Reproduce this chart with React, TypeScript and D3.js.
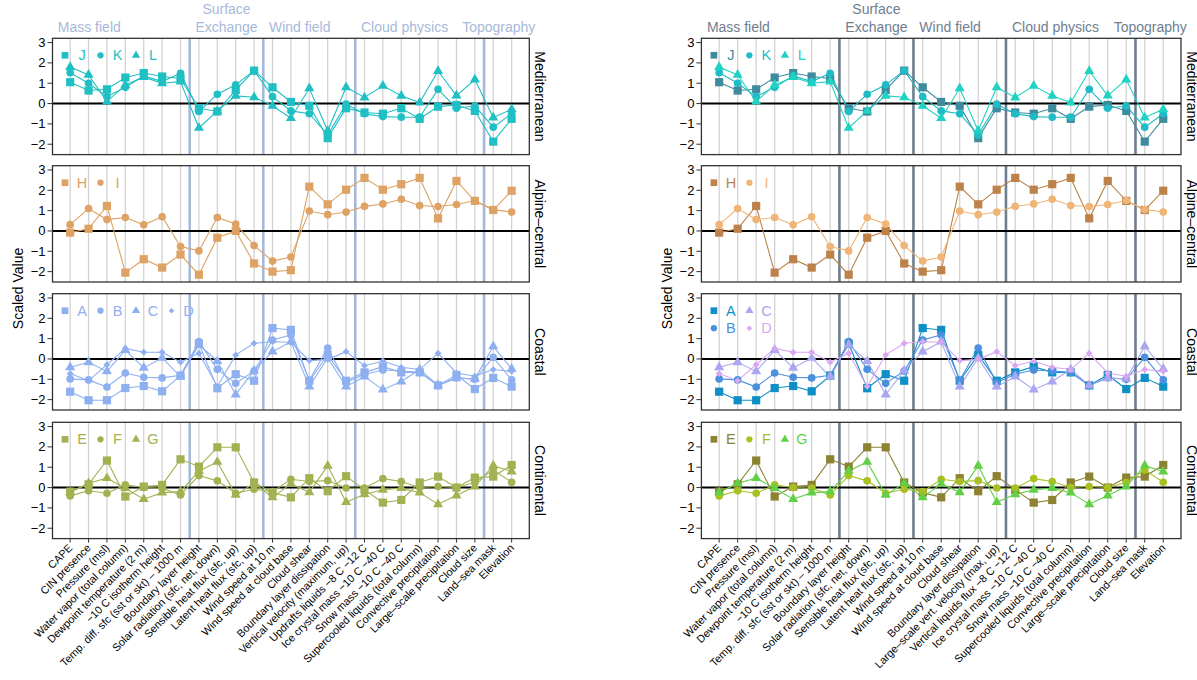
import React from 'react';
import * as d3 from 'd3';

const categoriesLeft = [
  'CAPE', 'CIN presence', 'Pressure (msl)', 'Water vapor (total column)', 'Dewpoint temperature (2 m)',
  '−10 C isotherm height', 'Temp. diff. sfc (sst or skt) – 1000 m', 'Boundary layer height',
  'Solar radiation (sfc, net, down)', 'Sensible heat flux (sfc, up)', 'Latent heat flux (sfc, up)',
  'Wind speed at 10 m', 'Wind speed at cloud base', 'Cloud shear', 'Boundary layer dissipation',
  'Vertical velocity (maximum, up)', 'Updrafts liquids −8 C −12 C', 'Ice crystal mass −10 C −40 C',
  'Snow mass −10 C −40 C', 'Supercooled liquids (total column)', 'Convective precipitation',
  'Large–scale precipitation', 'Cloud size', 'Land–sea mask', 'Elevation',
];
const categoriesRight = [
  'CAPE', 'CIN presence', 'Pressure (msl)', 'Water vapor (total column)', 'Dewpoint temperature (2 m)',
  '−10 C isotherm height', 'Temp. diff. sfc (sst or skt) – 1000 m', 'Boundary layer height',
  'Solar radiation (sfc, net, down)', 'Sensible heat flux (sfc, up)', 'Latent heat flux (sfc, up)',
  'Wind speed at 10 m', 'Wind speed at cloud base', 'Cloud shear', 'Boundary layer dissipation',
  'Large–scale vert. velocity (max, up)', 'Vertical liquids flux −8 C −12 C', 'Ice crystal mass −10 C −40 C',
  'Snow mass −10 C −40 C', 'Supercooled liquids (total column)', 'Convective precipitation',
  'Large–scale precipitation', 'Cloud size', 'Land–sea mask', 'Elevation',
];

const groupLabels = [['Mass field'], ['Surface', 'Exchange'], ['Wind field'], ['Cloud physics'], ['Topography']];
const groupLabelPos = [1.04, 8.5, 12.48, 18.18, 23.3];
const separators = [6.5, 10.5, 15.5, 22.5];
const yTicks = [-2, -1, 0, 1, 2, 3];
const regions = ['Mediterranean', 'Alpine–central', 'Coastal', 'Continental'];

// Mediterranean
const seriesJ = [1.05, 0.64, 0.7, 1.28, 1.5, 1.33, 1.23, -0.23, -0.39, 0.67, 1.62, 0.8, 0.08, -0.11, -1.7, -0.23, -0.44, -0.5, -0.23, -0.75, -0.15, -0.07, -0.36, -1.87, -0.75];
const seriesK = [1.52, 1.0, 0.34, 0.8, 1.36, 1.08, 1.49, -0.39, 0.46, 0.92, 1.62, 0.34, -0.36, -0.5, -1.54, -0.03, -0.5, -0.64, -0.67, -0.67, 0.7, -0.23, -0.11, -1.16, -0.5];
const seriesL = [1.8, 1.41, 0.1, 0.92, 1.3, 1.0, 1.08, -1.2, -0.36, 0.38, 0.31, -0.11, -0.72, 0.75, -1.34, 0.8, 0.3, 0.87, 0.38, 0.05, 1.6, 0.39, 1.18, -0.69, -0.28];
// Alpine-central
const seriesH = [-0.08, 0.11, 1.23, -2.05, -1.39, -1.8, -1.16, -2.15, -0.33, 0.0, -1.6, -2.0, -1.93, 2.18, 1.31, 2.03, 2.61, 2.03, 2.3, 2.61, 0.62, 2.46, 1.48, 1.03, 1.98];
const seriesI = [0.31, 1.1, 0.56, 0.66, 0.3, 0.7, -0.77, -0.98, 0.66, 0.34, -0.72, -1.48, -1.28, 0.98, 0.8, 0.93, 1.21, 1.33, 1.56, 1.25, 1.2, 1.3, 1.5, 1.05, 0.93];
// Coastal
const seriesA = [-1.61, -2.03, -2.03, -1.43, -1.33, -1.59, -0.82, 0.75, -1.44, -0.75, -1.07, 1.52, 1.43, -1.07, 0.2, -1.07, -0.66, -0.38, -0.66, -0.66, -1.3, -0.79, -1.48, -0.93, -1.36];
const seriesB = [-0.98, -1.03, -1.38, -0.69, -0.9, -0.93, -0.8, 0.85, -0.51, -1.2, -0.59, 0.93, 1.18, -1.05, 0.54, -1.16, -0.75, -0.54, -0.59, -0.66, -1.3, -0.92, -1.0, 0.08, -1.03];
const seriesC = [-0.41, -0.16, -0.61, 0.44, -0.44, 0.05, -0.87, 0.7, -0.11, -1.75, -0.57, 0.36, 0.85, -1.36, 0.05, -1.36, -0.87, -1.51, -1.11, -0.52, -1.3, -0.95, -0.98, 0.62, -0.49];
const seriesD = [-0.72, -1.07, -0.28, 0.52, 0.33, 0.33, -0.16, 0.28, -1.35, 0.2, 0.77, 0.85, 0.82, -0.08, -0.02, 0.36, -0.33, -0.1, -0.41, -0.52, 0.28, -0.69, -0.85, -0.52, -0.61];
// Continental
const seriesE = [-0.2, 0.16, 1.33, -0.44, 0.05, 0.13, 1.39, 1.03, 1.98, 1.98, 0.25, -0.25, -0.48, 0.46, -0.18, 0.56, -0.11, -0.74, -0.61, 0.25, 0.54, 0.0, 0.49, 0.54, 1.11];
const seriesF = [-0.41, -0.16, -0.28, 0.13, 0.0, -0.03, -0.36, 0.59, 0.33, -0.28, -0.08, -0.2, 0.41, 0.3, 0.34, -0.02, -0.03, 0.44, 0.3, 0.0, 0.05, 0.0, 0.25, 0.87, 0.26];
const seriesG = [-0.23, 0.21, 0.46, -0.03, -0.57, -0.25, -0.2, 0.82, 1.26, -0.36, 0.21, -0.48, 0.18, -0.23, 1.07, -0.72, -0.33, -0.11, -0.03, -0.25, -0.82, -0.39, 0.05, 1.08, 0.79];

const leftRowColors = ['#1fbfc4', '#dda264', '#8eaff0', '#a2b252'];
const rightColors: Record<string, string> = {
  J: '#3f8b9e', K: '#1fbcc6', L: '#1fd2c2',
  H: '#bd824a', I: '#efb476',
  A: '#0e8fc6', B: '#4b90de', C: '#aaa6f0', D: '#d9a6f0',
  E: '#8c8232', F: '#a8c022', G: '#62d046',
};

type Shape = 'square' | 'circle' | 'triangle' | 'diamond';
interface Series { name: string; shape: Shape; values: number[] }

const facetRows: Series[][] = [
  [
    { name: 'J', shape: 'square', values: seriesJ },
    { name: 'K', shape: 'circle', values: seriesK },
    { name: 'L', shape: 'triangle', values: seriesL },
  ],
  [
    { name: 'H', shape: 'square', values: seriesH },
    { name: 'I', shape: 'circle', values: seriesI },
  ],
  [
    { name: 'A', shape: 'square', values: seriesA },
    { name: 'B', shape: 'circle', values: seriesB },
    { name: 'C', shape: 'triangle', values: seriesC },
    { name: 'D', shape: 'diamond', values: seriesD },
  ],
  [
    { name: 'E', shape: 'square', values: seriesE },
    { name: 'F', shape: 'circle', values: seriesF },
    { name: 'G', shape: 'triangle', values: seriesG },
  ],
];

const FONT = 'Liberation Sans, Arial, Helvetica, sans-serif';
const rowTops = [38.3, 165.7, 293.7, 422.3];
const rowH = 116.3;

function markerPath(shape: Shape, scale = 1): string {
  if (shape === 'square') {
    const s = 4.1 * scale;
    return `M${-s},${-s}H${s}V${s}H${-s}Z`;
  }
  if (shape === 'circle') {
    return d3.symbol(d3.symbolCircle, 46 * scale * scale)() || '';
  }
  if (shape === 'triangle') {
    return d3.symbol(d3.symbolTriangle, 44 * scale * scale)() || '';
  }
  const d = 3.4 * scale;
  return `M0,${-d}L${d},0L0,${d}L${-d},0Z`;
}

interface PanelProps {
  x0: number; x1: number; categories: string[];
  sepColor: string; groupColor: string; right: boolean; titleX: number;
}

function Panel({ x0, x1, categories, sepColor, groupColor, right, titleX }: PanelProps) {
  const x = d3.scaleLinear().domain([-0.96, 24.96]).range([x0, x1]);
  const idx = d3.range(categories.length);
  const lastBottom = rowTops[3] + rowH;
  return (
    <g>
      {groupLabels.map((lines, gi) => (
        <text key={gi} x={x(groupLabelPos[gi])} textAnchor="middle" fontSize={14} fill={groupColor} fontFamily={FONT}>
          {lines.map((ln, li) => (
            <tspan key={li} x={x(groupLabelPos[gi])} y={32 - (lines.length - 1 - li) * 18}>{ln}</tspan>
          ))}
        </text>
      ))}
      <text transform={`translate(${titleX},${(rowTops[0] + lastBottom) / 2}) rotate(-90)`} textAnchor="middle"
        dominantBaseline="central" fontSize={14} fontFamily={FONT}>Scaled Value</text>
      {facetRows.map((series, ri) => {
        const top = rowTops[ri];
        const y = d3.scaleLinear().domain([-2.51, 3.21]).range([top + rowH, top]);
        const line = d3.line<number>().x((_, i) => x(i)).y((v) => y(v));
        const colorOf = (s: Series) => (right ? rightColors[s.name] : leftRowColors[ri]);
        const twoRows = right && series.length === 4;
        const legendItems = series.map((s, si) => {
          let col = si, row = 0;
          if (twoRows) { col = [0, 0, 1, 1][si]; row = [0, 1, 0, 1][si]; }
          return { s, cx: x0 + 12.5 + col * 35.5, cy: top + 17 + row * 17.5 };
        });
        return (
          <g key={ri}>
            {idx.map((i) => (
              <line key={i} x1={x(i)} x2={x(i)} y1={top} y2={top + rowH} stroke="#d3d3d3" strokeWidth={1.3} />
            ))}
            {separators.map((sv, si) => (
              <line key={si} x1={x(sv)} x2={x(sv)} y1={top} y2={top + rowH} stroke={sepColor} strokeWidth={2.6} />
            ))}
            <line x1={x0} x2={x1} y1={y(0)} y2={y(0)} stroke="#000" strokeWidth={2} />
            {series.map((s) => (
              <path key={s.name} d={line(s.values) || ''} fill="none" stroke={colorOf(s)} strokeWidth={1.1} />
            ))}
            {series.map((s) => (
              <g key={s.name + 'm'}>
                {s.values.map((v, i) => (
                  <path key={i} d={markerPath(s.shape)} transform={`translate(${x(i)},${y(v)})`} fill={colorOf(s)} />
                ))}
              </g>
            ))}
            {legendItems.map(({ s, cx, cy }) => (
              <g key={s.name + 'l'}>
                <path d={markerPath(s.shape, 0.82)} transform={`translate(${cx},${cy})`} fill={colorOf(s)} />
                <text x={cx + 17} y={cy} textAnchor="middle" dominantBaseline="central" fontSize={14.5}
                  fill={colorOf(s)} fontFamily={FONT}>{s.name}</text>
              </g>
            ))}
            <rect x={x0} y={top} width={x1 - x0} height={rowH} fill="none" stroke="#333" strokeWidth={1.3} />
            {yTicks.map((t) => (
              <g key={t}>
                <line x1={x0 - 5} x2={x0} y1={y(t)} y2={y(t)} stroke="#333" strokeWidth={1} />
                <text x={x0 - 7} y={y(t)} textAnchor="end" dominantBaseline="central" fontSize={13} fontFamily={FONT}>
                  {t < 0 ? `−${Math.abs(t)}` : `${t}`}
                </text>
              </g>
            ))}
            <text transform={`translate(${x1 + 11},${top + rowH / 2}) rotate(90)`} textAnchor="middle"
              dominantBaseline="central" fontSize={14} fontFamily={FONT}>{regions[ri]}</text>
          </g>
        );
      })}
      {idx.map((i) => (
        <line key={'bt' + i} x1={x(i)} x2={x(i)} y1={lastBottom} y2={lastBottom + 4} stroke="#333" strokeWidth={1} />
      ))}
      {categories.map((c, i) => (
        <text key={'xl' + i} transform={`translate(${x(i) + 3},${lastBottom + 10}) rotate(-45)`} textAnchor="end"
          fontSize={10.8} fontFamily={FONT}>{c}</text>
      ))}
    </g>
  );
}

export default function App() {
  return (
    <svg width={1197} height={680} style={{ position: 'absolute', left: 0, top: 0, background: '#fff' }}>
      <rect width={1197} height={680} fill="#fff" />
      <Panel x0={52.5} x1={529.3} categories={categoriesLeft} sepColor="#a7b9d9" groupColor="#a7b9d9" right={false} titleX={18} />
      <Panel x0={701.4} x1={1181} categories={categoriesRight} sepColor="#6f7e8e" groupColor="#6f7e8e" right={true} titleX={667} />
    </svg>
  );
}
